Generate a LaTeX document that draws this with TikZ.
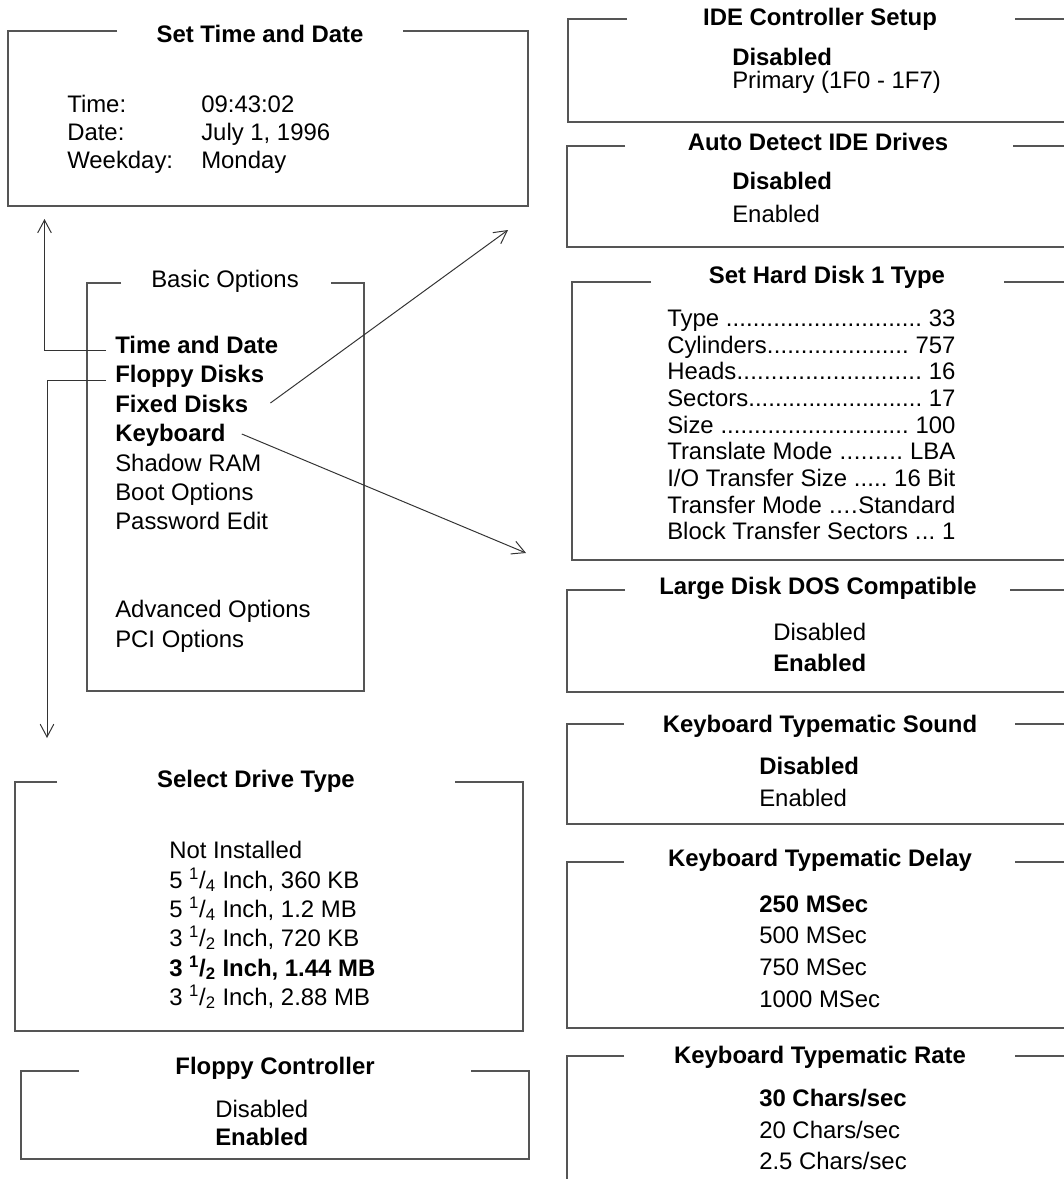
\documentclass[tikz,border=0pt]{standalone}
\usepackage{fontspec}
\setmainfont{Liberation Sans}
\usetikzlibrary{arrows.meta,calc}
\definecolor{framegray}{HTML}{555555}
\definecolor{arrgray}{HTML}{333333}
\newcommand{\bodyfont}{\fontsize{17}{20.4}\selectfont}
\newcommand{\frq}[2]{\textsuperscript{#1}/\textsubscript{#2}}
\newcommand{\dotrow}[2]{\hbox to 7.2cm{#1\xleaders\hbox to 0.278em{\hss.\hss}\hfill#2}}
\tikzset{
  frame/.style={draw=framegray,line width=1.2pt},
  ttl/.style={anchor=base,inner sep=0pt,font=\bodyfont\bfseries},
  itm/.style={anchor=base west,inner sep=0pt,font=\bodyfont},
  bitm/.style={itm,font=\bodyfont\bfseries},
  arr/.style={draw=arrgray,line width=0.7pt,-{Straight Barb[length=3.2mm,width=3.4mm]}}
}
\begin{document}
\begin{tikzpicture}[x=0.025cm,y=-0.025cm]
  \useasboundingbox (0,0) rectangle (1064,1179);

  % Set Time and Date
  \draw[frame] (117,31) -| (8,206) -| (528,31) -- (403,31);
  \node[ttl] (td_ttl) at (260,42) {Set Time and Date};
  \node[itm] (td_l1) at (67,112) {Time:};
  \node[itm] (td_l2) at (67,140) {Date:};
  \node[itm] (td_l3) at (67,168) {Weekday:};
  \node[itm] (td_v1) at (201,112) {09:43:02};
  \node[itm] (td_v2) at (201,140) {July 1, 1996};
  \node[itm] (td_v3) at (201,168) {Monday};

  % Basic Options
  \draw[frame] (121,283) -| (87,691) -| (364,283) -- (331,283);
  \node[ttl,font=\bodyfont] (bo_ttl) at (225,287) {Basic Options};
  \foreach \t/\y/\n in {Time and Date/353/tad,Floppy Disks/382/fld,Fixed Disks/412/fxd,Keyboard/441/kbd}
    \node[bitm] (\n) at (115,\y) {\t};
  \foreach \t/\y in {Shadow RAM/471,Boot Options/500,Password Edit/529,Advanced Options/617,PCI Options/647}
    \node[itm] (bo_\y) at (115,\y) {\t};

  % Select Drive Type
  \draw[frame] (57,782) -| (15,1031) -| (523,782) -- (455,782);
  \node[ttl] (sd_ttl) at (256,787) {Select Drive Type};
  \node[itm] (sd_1) at (169,858) {Not Installed};
  \node[itm] (sd_2) at (169,888) {5 \frq{1}{4} Inch, 360 KB};
  \node[itm] (sd_3) at (169,917) {5 \frq{1}{4} Inch, 1.2 MB};
  \node[itm] (sd_4) at (169,946) {3 \frq{1}{2} Inch, 720 KB};
  \node[bitm] (sd_5) at (169,976) {3 \frq{1}{2} Inch, 1.44 MB};
  \node[itm] (sd_6) at (169,1005) {3 \frq{1}{2} Inch, 2.88 MB};

  % Floppy Controller
  \draw[frame] (79,1071) -| (21,1159) -| (529,1071) -- (471,1071);
  \node[ttl] (fc_ttl) at (275,1074) {Floppy Controller};
  \node[itm] (fc_1) at (215,1117) {Disabled};
  \node[bitm] (fc_2) at (215,1145) {Enabled};

  % IDE Controller Setup
  \draw[frame] (627,19) -| (568,122) -- (1064,122);
  \draw[frame] (1015,19) -- (1064,19);
  \node[ttl] (ic_ttl) at (820,25) {IDE Controller Setup};
  \node[bitm] (ic_1) at (732,65) {Disabled};
  \node[itm] (ic_2) at (732,88) {Primary (1F0 - 1F7)};

  % Auto Detect IDE Drives
  \draw[frame] (625,146) -| (567,247) -- (1064,247);
  \draw[frame] (1013,146) -- (1064,146);
  \node[ttl] (ad_ttl) at (818,150) {Auto Detect IDE Drives};
  \node[bitm] (ad_1) at (732,189) {Disabled};
  \node[itm] (ad_2) at (732,222) {Enabled};

  % Set Hard Disk 1 Type
  \draw[frame] (651,282) -| (572,560) -- (1064,560);
  \draw[frame] (1004,282) -- (1064,282);
  \node[ttl] (hd_ttl) at (827,283) {Set Hard Disk 1 Type};
  \node[itm] (hd_1) at (667,326) {\dotrow{Type }{ 33}};
  \node[itm] (hd_2) at (667,353) {\dotrow{Cylinders}{ 757}};
  \node[itm] (hd_3) at (667,379) {\dotrow{Heads}{ 16}};
  \node[itm] (hd_4) at (667,406) {\dotrow{Sectors}{ 17}};
  \node[itm] (hd_5) at (667,433) {\dotrow{Size }{ 100}};
  \node[itm] (hd_6) at (667,459) {\dotrow{Translate Mode }{ LBA}};
  \node[itm] (hd_7) at (667,486) {\dotrow{I/O Transfer Size }{ 16 Bit}};
  \node[itm] (hd_8) at (667,513) {\dotrow{Transfer Mode }{Standard}};
  \node[itm] (hd_9) at (667,539) {\dotrow{Block Transfer Sectors }{ 1}};

  % Large Disk DOS Compatible
  \draw[frame] (625,590) -| (567,692) -- (1064,692);
  \draw[frame] (1010,590) -- (1064,590);
  \node[ttl] (ld_ttl) at (818,594) {Large Disk DOS Compatible};
  \node[itm] (ld_1) at (773,640) {Disabled};
  \node[bitm] (ld_2) at (773,671) {Enabled};

  % Keyboard Typematic Sound
  \draw[frame] (624,724) -| (567,824) -- (1064,824);
  \draw[frame] (1015,724) -- (1064,724);
  \node[ttl] (ks_ttl) at (820,732) {Keyboard Typematic Sound};
  \node[bitm] (ks_1) at (759,774) {Disabled};
  \node[itm] (ks_2) at (759,806) {Enabled};

  % Keyboard Typematic Delay
  \draw[frame] (624,862) -| (567,1028) -- (1064,1028);
  \draw[frame] (1015,862) -- (1064,862);
  \node[ttl] (kd_ttl) at (820,866) {Keyboard Typematic Delay};
  \node[bitm] (kd_1) at (759,912) {250 MSec};
  \node[itm] (kd_2) at (759,943) {500 MSec};
  \node[itm] (kd_3) at (759,975) {750 MSec};
  \node[itm] (kd_4) at (759,1007) {1000 MSec};

  % Keyboard Typematic Rate
  \draw[frame] (624,1056) -| (567,1180);
  \draw[frame] (1015,1056) -- (1064,1056);
  \node[ttl] (kr_ttl) at (820,1063) {Keyboard Typematic Rate};
  \node[bitm] (kr_1) at (759,1106) {30 Chars/sec};
  \node[itm] (kr_2) at (759,1138) {20 Chars/sec};
  \node[itm] (kr_3) at (759,1169) {2.5 Chars/sec};

  % Arrows from the menu
  \coordinate (up_end) at (44.5,219);
  \coordinate (dn_end) at (47,738);
  \coordinate (fx_end) at (508,230);
  \coordinate (kb_end) at (526,553);
  \draw[arr] ($(tad.base west)+(-9,-3)$) -| (up_end);
  \draw[arr] ($(fld.base west)+(-9,-2)$) -| (dn_end);
  \draw[arr] ($(fxd.base east)+(22,-9)$) -- (fx_end);
  \draw[arr] ($(kbd.base east)+(16,-7)$) -- (kb_end);

\end{tikzpicture}
\end{document}
